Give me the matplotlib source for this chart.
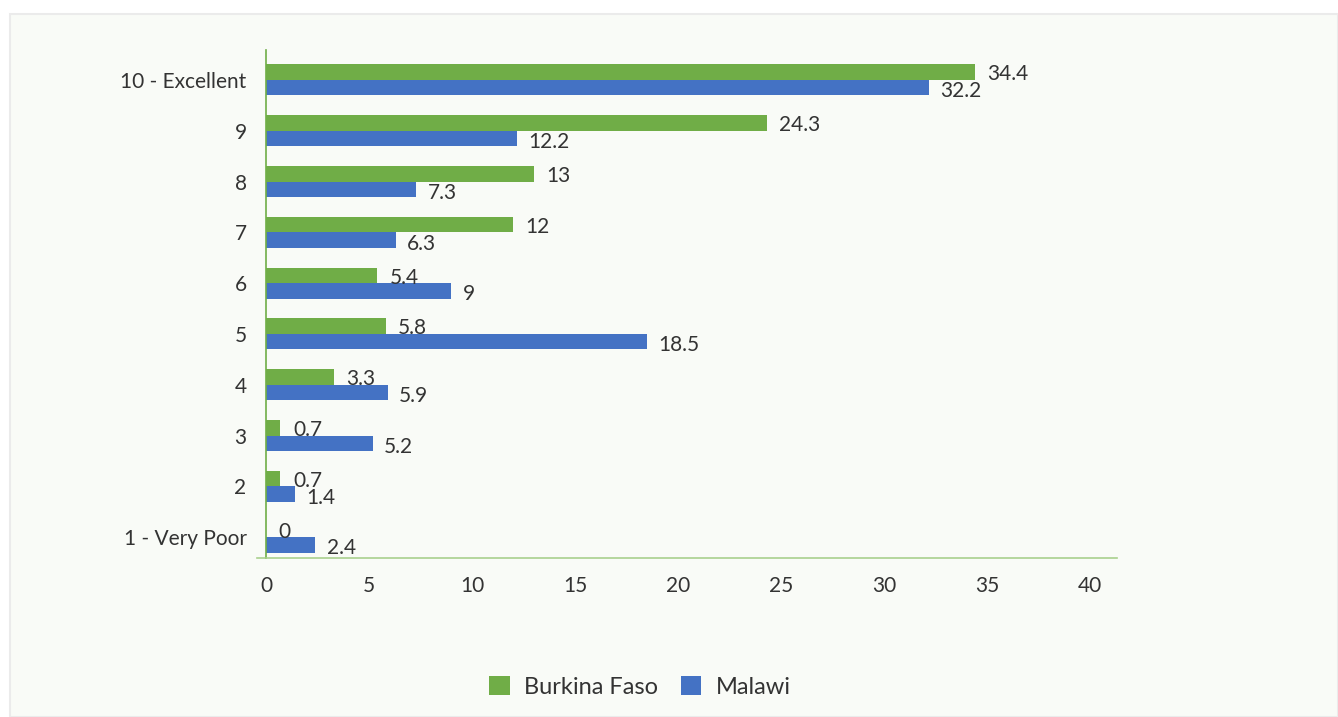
import matplotlib.pyplot as plt
import numpy as np
from matplotlib.patches import Rectangle

categories = ["1 - Very Poor", "2", "3", "4", "5", "6", "7", "8", "9", "10 - Excellent"]
burkina = [0, 0.7, 0.7, 3.3, 5.8, 5.4, 12, 13, 24.3, 34.4]
malawi = [2.4, 1.4, 5.2, 5.9, 18.5, 9, 6.3, 7.3, 12.2, 32.2]
xticks = [0, 5, 10, 15, 20, 25, 30, 35, 40]

green = "#70ad47"
blue = "#4472c4"
bg = "#f9fbf7"
txt = "#333333"

plt.rcParams['font.family'] = ['Lato', 'DejaVu Sans']

fig = plt.figure(figsize=(13.38, 7.17), dpi=100)
fig.patch.set_facecolor("white")
# inner panel, behind everything
fig.patches.append(Rectangle((10/1338, 0), 1 - 10/1338, 1 - 14/717, transform=fig.transFigure,
                             facecolor=bg, edgecolor="#ebebeb", linewidth=1.5, zorder=-10))

ax = fig.add_axes([266/1338, 1 - 558/717, (1117-266)/1338, (558-50)/717])
ax.set_facecolor(bg)

y = np.arange(len(categories))
h = 0.305
ax.barh(y + h/2, burkina, height=h, color=green, label="Burkina Faso")
ax.barh(y - h/2, malawi, height=h, color=blue, label="Malawi")

for yi, v in zip(y, burkina):
    ax.annotate(f"{v:g}", (v, yi + h/2), xytext=(9, -1.5), textcoords="offset points",
                ha="left", va="center", fontsize=15, color=txt)
for yi, v in zip(y, malawi):
    ax.annotate(f"{v:g}", (v, yi - h/2), xytext=(8, -2.5), textcoords="offset points",
                ha="left", va="center", fontsize=15, color=txt)

ax.set_xlim(0, 41.3)
ax.set_ylim(-0.41, 9.59)
ax.set_xticks(xticks)
ax.set_yticks(y)
ax.set_yticklabels(categories)
ax.tick_params(axis="both", length=0, labelsize=15, colors=txt)
ax.tick_params(axis="x", pad=13)
ax.tick_params(axis="y", pad=14)

for s in ["top", "right"]:
    ax.spines[s].set_visible(False)
ax.spines["left"].set_color(green)
ax.spines["bottom"].set_color("#a9d08e")
ax.spines["left"].set_linewidth(1.2)
ax.spines["bottom"].set_linewidth(1.2)
# small stub of the category axis line left of zero
ax.plot([-0.45, 0], [-0.41, -0.41], color="#a9d08e", lw=1.2, clip_on=False)

fig.legend(loc="center", bbox_to_anchor=(640/1338, 1 - 687/717), ncol=2, frameon=False,
           fontsize=17, handlelength=0.85, handleheight=0.85, columnspacing=1.0,
           handletextpad=0.6, labelcolor=txt)

plt.savefig("out.png", dpi=100, facecolor=fig.get_facecolor())
